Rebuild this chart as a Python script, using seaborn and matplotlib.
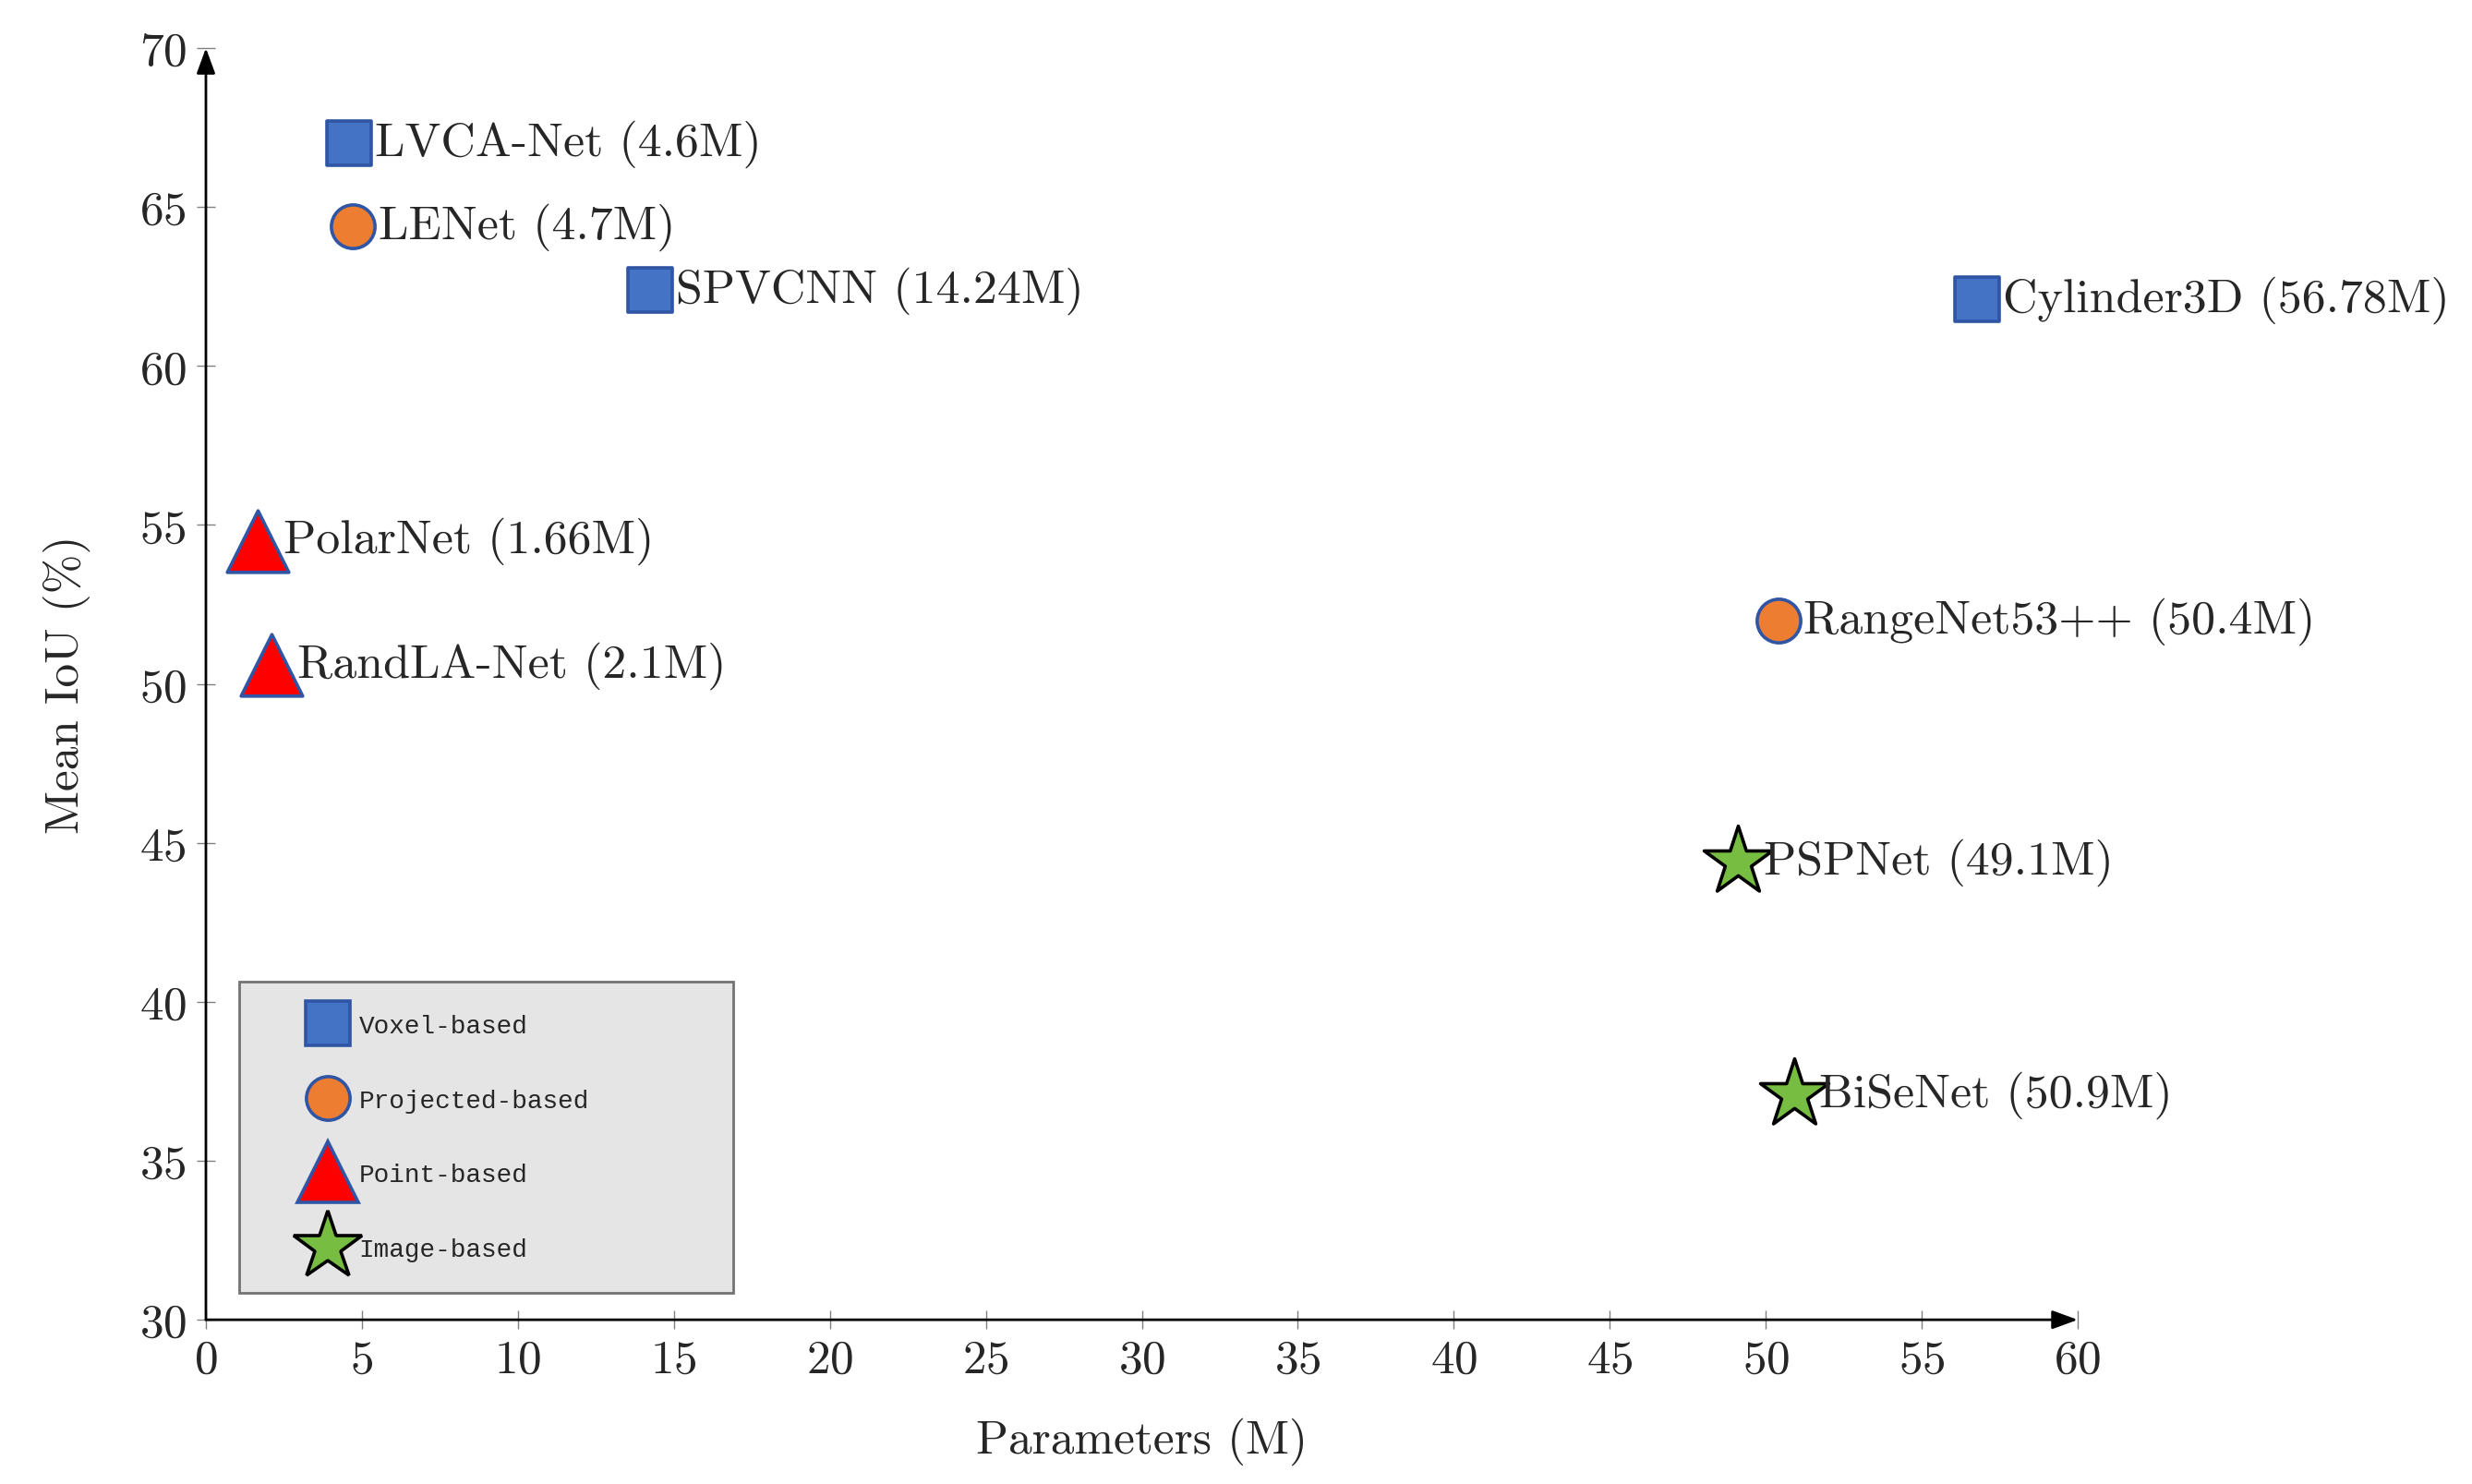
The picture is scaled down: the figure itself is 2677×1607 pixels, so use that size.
import numpy as np
import pandas as pd
import matplotlib
matplotlib.use("Agg")
import matplotlib.pyplot as plt
from matplotlib.lines import Line2D
import seaborn as sns

# data
models = ["LVCA-Net", "LENet", "SPVCNN", "Cylinder3D", "PolarNet",
          "RandLA-Net", "RangeNet53++", "PSPNet", "BiSeNet"]
params = [4.6, 4.7, 14.24, 56.78, 1.66, 2.1, 50.4, 49.1, 50.9]
miou = [67.0, 64.4, 62.4, 62.1, 54.5, 50.6, 52.0, 44.4, 37.1]
kind = ["Voxel-based", "Projected-based", "Voxel-based", "Voxel-based",
        "Point-based", "Point-based", "Projected-based", "Image-based",
        "Image-based"]
kinds = ["Voxel-based", "Projected-based", "Point-based", "Image-based"]
xticks = list(range(0, 61, 5))
yticks = list(range(30, 71, 5))

df = pd.DataFrame({"model": models, "params": params, "miou": miou, "kind": kind})

# style per group
styles = {
    "Voxel-based": dict(marker="s", fc="#4472C4", ec="#2F55A4", size=17),
    "Projected-based": dict(marker="o", fc="#ED7D31", ec="#2F55A4", size=17),
    "Point-based": dict(marker="^", fc="#FF0000", ec="#2F55A4", size=24),
    "Image-based": dict(marker="*", fc="#77BD42", ec="#000000", size=28),
}

sns.set_theme(style="white")
plt.rcParams["font.family"] = ["cmr10", "DejaVu Serif"]
plt.rcParams["axes.formatter.use_mathtext"] = True
plt.rcParams["axes.unicode_minus"] = False

fig = plt.figure(figsize=(13.385, 8.04), dpi=200)
ax = fig.add_axes([0.0833, 0.1106, 0.7572, 0.8564])

for k in kinds:
    sub = df[df["kind"] == k]
    st = styles[k]
    sns.scatterplot(data=sub, x="params", y="miou", ax=ax, marker=st["marker"],
                    color=st["fc"], edgecolor=st["ec"], linewidth=1.3,
                    s=st["size"] ** 2, legend=False, clip_on=False, zorder=3)

for m, x, y in zip(models, params, miou):
    ax.annotate(f"{m} ({x}M)", (x, y), xytext=(10, 0), textcoords="offset points",
                ha="left", va="center", fontsize=18.7, zorder=4)

ax.set_xlim(0, 60)
ax.set_ylim(30, 70)
ax.set_xticks(xticks)
ax.set_yticks(yticks)
ax.tick_params(axis="both", direction="inout", length=7, width=0.5,
               color="#808080", labelsize=18.5, pad=4, bottom=True, left=True)
ax.set_xlabel("Parameters (M)", fontsize=18.5, labelpad=14)
ax.set_ylabel("Mean IoU (%)", fontsize=18.5, labelpad=19)

for sp in ["top", "right", "left", "bottom"]:
    ax.spines[sp].set_visible(False)
arrow = dict(arrowstyle="-|>,head_length=0.6,head_width=0.22", color="black",
             lw=1.0, mutation_scale=14, shrinkA=0, shrinkB=0)
ax.annotate("", xy=(1.0, 0), xytext=(0, 0), xycoords="axes fraction", arrowprops=arrow)
ax.annotate("", xy=(0, 1.0), xytext=(0, 0), xycoords="axes fraction", arrowprops=arrow)

handles = [Line2D([], [], linestyle="none", marker=styles[k]["marker"],
                  markerfacecolor=styles[k]["fc"], markeredgecolor=styles[k]["ec"],
                  markeredgewidth=1.3, markersize=styles[k]["size"]) for k in kinds]
leg = ax.legend(handles, kinds, loc="lower left", mode="expand",
                bbox_to_anchor=(0.0177, 0.021, 0.264, 0.245),
                prop={"family": "Liberation Mono", "size": 10},
                frameon=True, fancybox=False, facecolor="#E5E5E5",
                edgecolor="#737373", framealpha=1, borderpad=1.25,
                handlelength=4.4, handletextpad=-0.98, labelspacing=1.96,
                borderaxespad=0)
leg.get_frame().set_linewidth(1.0)

fig.savefig("out.png", dpi=200)
